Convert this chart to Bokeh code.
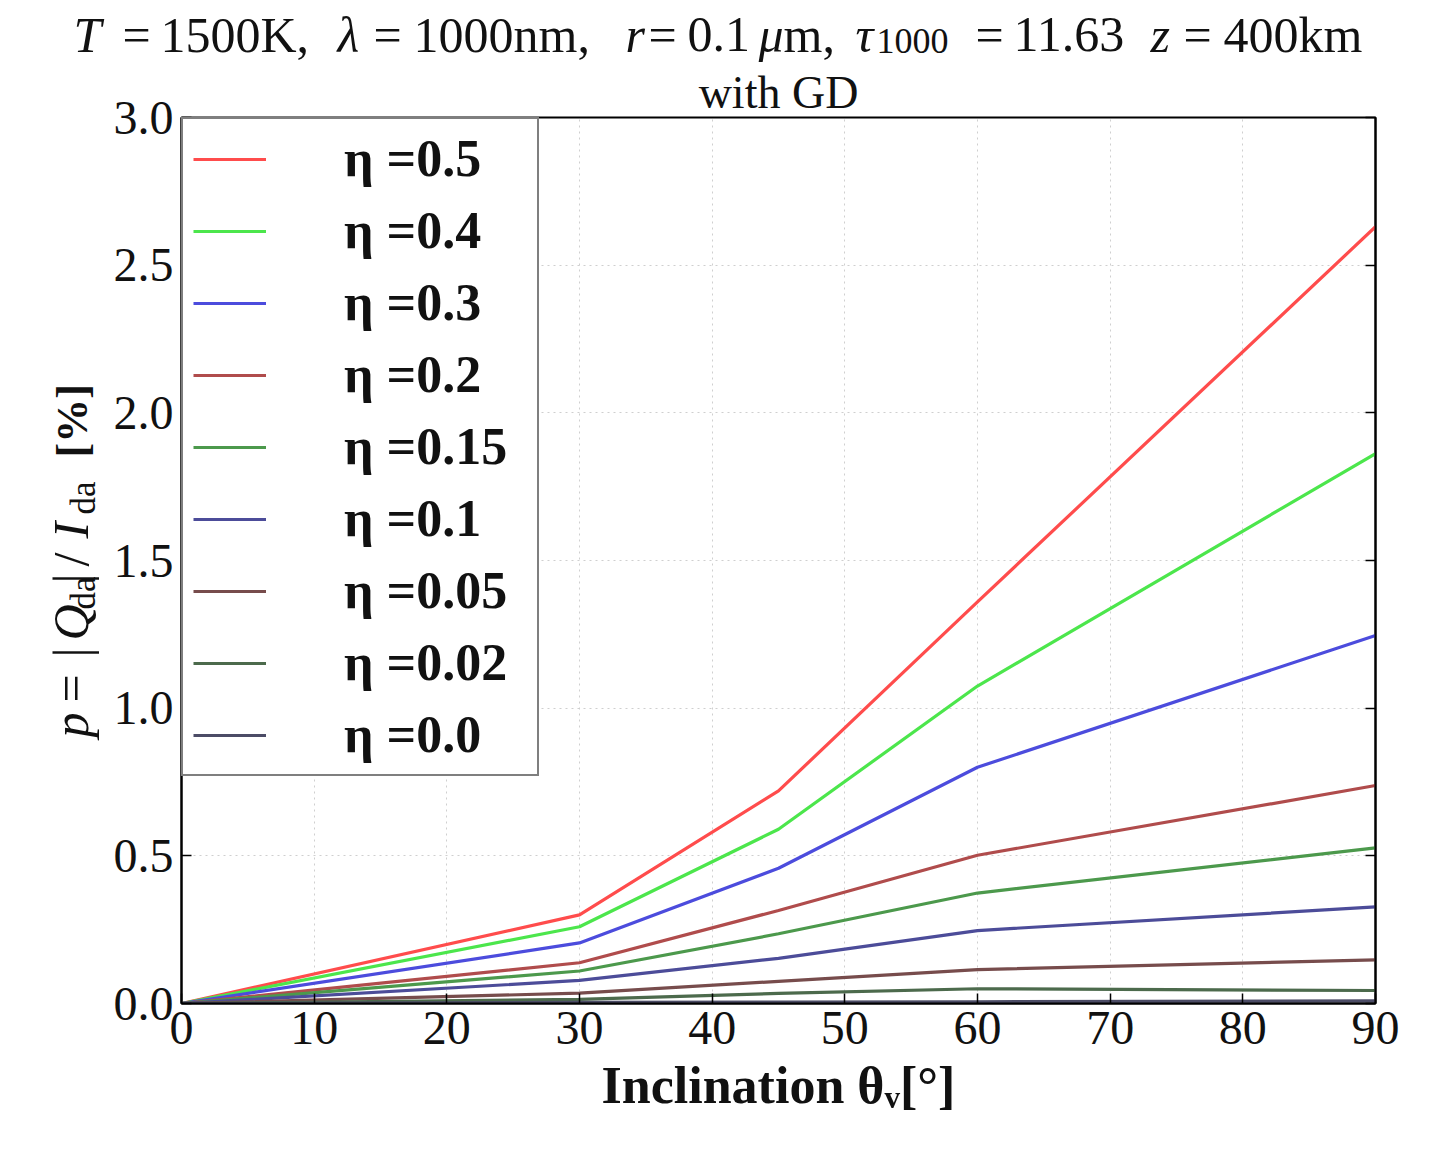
from bokeh.plotting import figure
from bokeh.layouts import column, row
from bokeh.models import (Range1d, LinearAxis, FixedTicker, Legend, LegendItem,
                          CustomJSTickFormatter, Title)
from bokeh.core.properties import value
from bokeh.embed import file_html
from bokeh.resources import INLINE
import math

# ---- data ----
inclination = [0, 30, 45, 60, 90]
eta_labels = ["η =0.5", "η =0.4", "η =0.3", "η =0.2", "η =0.15",
              "η =0.1", "η =0.05", "η =0.02", "η =0.0"]
p_eta_050 = [0.0, 0.30, 0.72, 1.36, 2.63]
p_eta_040 = [0.0, 0.26, 0.59, 1.075, 1.862]
p_eta_030 = [0.0, 0.205, 0.458, 0.80, 1.246]
p_eta_020 = [0.0, 0.138, 0.315, 0.502, 0.738]
p_eta_015 = [0.0, 0.110, 0.236, 0.374, 0.527]
p_eta_010 = [0.0, 0.078, 0.153, 0.247, 0.327]
p_eta_005 = [0.0, 0.035, 0.075, 0.115, 0.148]
p_eta_002 = [0.0, 0.014, 0.034, 0.050, 0.044]
p_eta_000 = [0.0, 0.004, 0.005, 0.006, 0.009]
series = [p_eta_050, p_eta_040, p_eta_030, p_eta_020, p_eta_015,
          p_eta_010, p_eta_005, p_eta_002, p_eta_000]
colors = ["#ff4c4c", "#4ce64c", "#4c4cdd", "#b04c4c", "#4c994c",
          "#4c4c99", "#774c4c", "#4c6a4c", "#4c4c66"]

x_ticks = [0, 10, 20, 30, 40, 50, 60, 70, 80, 90]
y_ticks = [0.0, 0.5, 1.0, 1.5, 2.0, 2.5, 3.0]

title_line2 = "with GD"
x_label = "Inclination θᵥ[°]"

SERIF = "Liberation Serif"
INK = "#111111"

W, H = 1451, 1174
TOP = 62           # height of title strip
YLW = 110          # width of y-label strip
L, R, B = 181, 76, 171
FRAME_TOP, FRAME_BOTTOM = 117, 1003
MID = 0.3375       # anchor offset (middle of text) relative to font size

def bare(fig):
    fig.grid.visible = False
    fig.outline_line_color = None
    fig.background_fill_color = "white"
    fig.border_fill_color = "white"
    return fig

def ttext(fig, x, y, s, size, style, angle=0.0):
    fig.text(x=[x], y=[y], text=[s], text_font=value(SERIF),
             text_font_size=f"{size}px", text_font_style=style, text_color=INK,
             text_align="left", text_baseline="middle", angle=angle)

# ---------- title strip ----------
tf = bare(figure(width=W, height=TOP, output_backend="svg", toolbar_location=None,
                 title=None, x_range=Range1d(0, W), y_range=Range1d(-TOP, 0),
                 min_border=0, x_axis_location=None, y_axis_location=None))

BL = 51  # baseline of title line 1
title_pieces = [
    (73, BL, "T", 50, "italic"),
    (122, BL, "=", 50, "normal"),
    (160, BL, "1500K,", 50, "normal"),
    (337, BL, "λ", 50, "italic"),
    (373, BL, "=", 50, "normal"),
    (413, BL, "1000nm,", 50, "normal"),
    (625, BL, "r", 50, "italic"),
    (648, BL, "=", 50, "normal"),
    (687, BL, "0.1", 50, "normal"),
    (758, BL, "μ", 50, "italic"),
    (783, BL, "m,", 50, "normal"),
    (855, BL, "τ", 50, "italic"),
    (876, 53, "1000", 36, "normal"),
    (975, BL, "=", 50, "normal"),
    (1013, BL, "11.63", 50, "normal"),
    (1150, BL, "z", 50, "italic"),
    (1183, BL, "=", 50, "normal"),
    (1223, BL, "400km", 50, "normal"),
]
for x, bl, s, sz, st in title_pieces:
    ttext(tf, x, -(bl - MID * sz), s, sz, st)

# ---------- y-label strip ----------
HB = H - TOP
yf = bare(figure(width=YLW, height=HB, output_backend="svg", toolbar_location=None,
                 title=None, x_range=Range1d(0, YLW),
                 y_range=Range1d(-FRAME_BOTTOM, -FRAME_TOP),
                 min_border_left=0, min_border_right=0,
                 min_border_top=FRAME_TOP - TOP, min_border_bottom=H - FRAME_BOTTOM,
                 x_axis_location=None, y_axis_location=None))
ang = math.pi / 2
YBL = 87  # baseline x of rotated label
ylab_pieces = [
    (737, "p", 50, "italic", 0),
    (702, "=", 50, "normal", 0),
    (657, "|", 50, "normal", 0),
    (640, "Q", 50, "italic", 0),
    (609, "da", 35, "normal", 8),
    (583, "|", 50, "normal", 0),
    (566, "/", 50, "normal", 0),
    (538, "I", 50, "italic", 0),
    (514, "da", 35, "normal", 8),
    (457, "[%]", 44, "bold", 0),
]
for py, s, sz, st, dx in ylab_pieces:
    ttext(yf, YBL + dx - MID * sz, -py, s, sz, st, angle=ang)

# ---------- main plot ----------
p = figure(width=W - YLW, height=HB, output_backend="svg", toolbar_location=None,
           title=None,
           x_range=Range1d(0, 90), y_range=Range1d(0, 3.0),
           min_border_left=L - YLW, min_border_right=R,
           min_border_top=FRAME_TOP - TOP,
           min_border_bottom=B, x_axis_location=None, y_axis_location=None)
p.background_fill_color = "white"
p.border_fill_color = "white"
p.outline_line_color = "black"
p.outline_line_width = 2

ttl = Title(text=title_line2, align="center", text_font=SERIF,
            text_font_size="46px", text_font_style="normal", text_color=INK,
            standoff=0, offset=0)
p.add_layout(ttl, "above")

def style_axis(ax, labels=True):
    ax.axis_line_color = "black"
    ax.axis_line_width = 2
    ax.major_tick_in = 10
    ax.major_tick_out = 0
    ax.minor_tick_in = 0
    ax.minor_tick_out = 0
    ax.major_tick_line_color = "black"
    ax.major_tick_line_width = 1.5
    ax.major_label_text_font = SERIF
    ax.major_label_text_font_size = "48px"
    ax.major_label_text_color = INK
    if not labels:
        ax.formatter = CustomJSTickFormatter(code="return '';")
        ax.major_label_standoff = 0

xb = LinearAxis(ticker=FixedTicker(ticks=x_ticks))
style_axis(xb)
xb.major_label_standoff = 8
xb.axis_label = x_label
xb.axis_label_text_font = SERIF
xb.axis_label_text_font_size = "52px"
xb.axis_label_text_font_style = "bold"
xb.axis_label_text_color = INK
xb.axis_label_standoff = 10
p.add_layout(xb, "below")

yl = LinearAxis(ticker=FixedTicker(ticks=y_ticks))
style_axis(yl)
yl.major_label_standoff = 8
yl.formatter = CustomJSTickFormatter(code="return tick.toFixed(1);")
p.add_layout(yl, "left")

yr = LinearAxis(ticker=FixedTicker(ticks=y_ticks))
style_axis(yr, labels=False)
p.add_layout(yr, "right")

p.xgrid.ticker = FixedTicker(ticks=x_ticks)
p.ygrid.ticker = FixedTicker(ticks=y_ticks)
for g in (p.xgrid, p.ygrid):
    g.grid_line_color = "#cfcfcf"
    g.grid_line_dash = "2 4"
    g.grid_line_width = 1

items = []
for lab, ys, c in zip(eta_labels, series, colors):
    r = p.line(inclination, ys, line_color=c, line_width=3.2)
    items.append(LegendItem(label=lab, renderers=[r]))

legend = Legend(items=items, location="top_left")
legend.margin = 0
legend.padding = 10
legend.spacing = 13
legend.glyph_width = 73
legend.glyph_height = 40
legend.label_height = 40
legend.label_width = 183
legend.label_standoff = 78
legend.label_text_font = SERIF
legend.label_text_font_size = "52px"
legend.label_text_font_style = "bold"
legend.label_text_color = INK
legend.border_line_color = "black"
legend.border_line_width = 2
legend.background_fill_alpha = 1.0
p.add_layout(legend)

layout = column(tf, row(yf, p, spacing=0), spacing=0)
open("out.html", "w").write(file_html(layout, INLINE))
